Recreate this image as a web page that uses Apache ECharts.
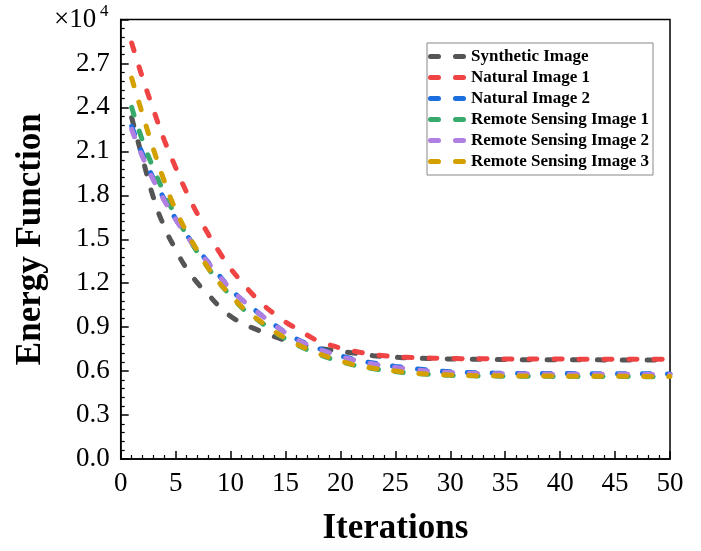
<!DOCTYPE html>
<html>
<head>
<meta charset="utf-8">
<script src="https://cdn.jsdelivr.net/npm/echarts@6/dist/echarts.min.js"></script>
<style>html,body{margin:0;padding:0;background:#fff}#c{width:701px;height:551px}</style>
</head>
<body>
<div id="c"></div>
<script>
const iterations = [1,2,3,4,5,6,7,8,9,10,11,12,13,14,15,16,17,18,19,20,21,22,23,24,25,26,27,28,29,30,31,32,33,34,35,36,37,38,39,40,41,42,43,44,45,46,47,48,49,50];
const seriesNames = ['Synthetic Image','Natural Image 1','Natural Image 2','Remote Sensing Image 1','Remote Sensing Image 2','Remote Sensing Image 3'];
const synthetic = [23300,20500,17800,15800,14300,13000,12000,11200,10400,9750,9300,8950,8650,8350,8100,7900,7720,7570,7450,7350,7250,7150,7050,7000,6950,6900,6880,6860,6840,6830,6820,6810,6800,6795,6790,6785,6780,6778,6776,6774,6772,6770,6768,6766,6764,6762,6760,6758,6756,6754];
const natural1 = [28400,26000,23800,21700,19900,18200,16700,15300,14100,13000,12100,11250,10500,9900,9350,8900,8450,8050,7800,7570,7400,7250,7130,7050,6980,6940,6910,6890,6870,6860,6850,6845,6840,6835,6830,6828,6826,6824,6822,6820,6818,6816,6814,6812,6810,6808,6806,6804,6802,6800];
const natural2 = [22700,20800,19100,17700,16400,15300,14300,13400,12500,11600,10900,10300,9700,9150,8650,8200,7850,7550,7300,7050,6850,6680,6550,6430,6320,6230,6150,6070,6000,5960,5930,5900,5880,5860,5850,5845,5840,5836,5832,5830,5828,5826,5824,5822,5820,5818,5816,5814,5812,5810];
const remote1 = [24000,21700,19800,18100,16600,15300,14100,13000,12000,11150,10350,9750,9200,8650,8200,7800,7450,7150,6880,6650,6450,6280,6160,6060,5970,5890,5830,5780,5740,5710,5690,5675,5665,5658,5652,5648,5645,5642,5640,5638,5636,5634,5632,5630,5628,5626,5624,5622,5620,5618];
const remote2 = [22500,20600,19000,17600,16350,15250,14250,13350,12450,11600,10900,10300,9700,9150,8620,8180,7800,7500,7250,7000,6800,6630,6480,6360,6250,6160,6080,6000,5940,5900,5870,5850,5835,5825,5815,5808,5802,5798,5794,5790,5788,5786,5784,5782,5780,5778,5776,5774,5772,5770];
const remote3 = [26000,23500,21100,18900,17000,15500,14200,13000,12000,11200,10400,9800,9250,8700,8250,7850,7500,7200,6930,6700,6480,6320,6200,6100,6000,5910,5850,5800,5760,5730,5710,5695,5685,5678,5672,5668,5664,5661,5658,5655,5653,5651,5649,5647,5645,5643,5641,5639,5637,5635];
const xTicks = [0,5,10,15,20,25,30,35,40,45,50];
const yTickStep = 3000;
const colors = ['#555555','#f04444','#1a6ee0','#38ab6c','#b07fe2','#d4a000'];
const allData = [synthetic, natural1, natural2, remote1, remote2, remote3];

const FONT = 'Liberation Serif';
const DASH_ICON = 'path://M2.5,0 h8 a2.5,2.5 0 0 1 0,5 h-8 a2.5,2.5 0 0 1 0,-5z M27.5,0 h8 a2.5,2.5 0 0 1 0,5 h-8 a2.5,2.5 0 0 1 0,-5z';
const chart = echarts.init(document.getElementById('c'), null, {renderer:'canvas'});
const series = seriesNames.map((n,i)=>({
  name:n, type:'line', symbol:'none', smooth:true,
  data: iterations.map((x,j)=>[x, allData[i][j]]),
  lineStyle:{color:colors[i], width:5, type:[8,17], cap:'round'},
  itemStyle:{color:colors[i]}
}));
chart.setOption({
  animation:false,
  backgroundColor:'#fff',
  grid:{left:120.7, right:31, top:19.5, bottom:90, show:true, borderColor:'#000', borderWidth:1.5, backgroundColor:'transparent'},
  xAxis:{
    type:'value', min:xTicks[0], max:xTicks[xTicks.length-1], interval:5,
    name:'Iterations', nameLocation:'middle', nameGap:52,
    nameTextStyle:{fontFamily:FONT, fontWeight:'bold', fontSize:35, color:'#000'},
    axisLine:{lineStyle:{color:'#000', width:1.5}},
    axisTick:{inside:true, length:8, lineStyle:{color:'#000', width:1.5}},
    minorTick:{show:true, splitNumber:5, length:4, lineStyle:{color:'#000', width:1.2}},
    splitLine:{show:false},
    axisLabel:{fontFamily:FONT, fontSize:27, color:'#000', margin:11}
  },
  yAxis:{
    type:'value', min:0, max:30000, interval:yTickStep,
    name:'Energy Function', nameLocation:'middle', nameGap:72,
    nameTextStyle:{fontFamily:FONT, fontWeight:'bold', fontSize:35, color:'#000'},
    axisLine:{lineStyle:{color:'#000', width:1.5}},
    axisTick:{inside:true, length:8, lineStyle:{color:'#000', width:1.5}},
    minorTick:{show:true, splitNumber:5, length:4, lineStyle:{color:'#000', width:1.2}},
    splitLine:{show:false},
    axisLabel:{fontFamily:FONT, fontSize:27, color:'#000', margin:11, showMaxLabel:false,
      formatter:v=> v>=30000 ? '' : (v/10000).toFixed(1)}
  },
  legend:{
    orient:'vertical', left:427, top:43,
    data:seriesNames.map(n=>({name:n, icon:DASH_ICON})),
    itemWidth:38, itemHeight:5, itemGap:4,
    padding:[5,4,5,1],
    backgroundColor:'#fff', borderColor:'#888', borderWidth:1,
    textStyle:{fontFamily:FONT, fontWeight:'bold', fontSize:17, lineHeight:17, color:'#000'}
  },
  graphic:[
    {type:'text', left:54, top:6, style:{text:'×10', fontFamily:FONT, fontSize:27, fill:'#000'}},
    {type:'text', left:100, top:3, style:{text:'4', fontFamily:FONT, fontSize:17, fill:'#000'}}
  ],
  series:series
});
</script>
</body>
</html>
